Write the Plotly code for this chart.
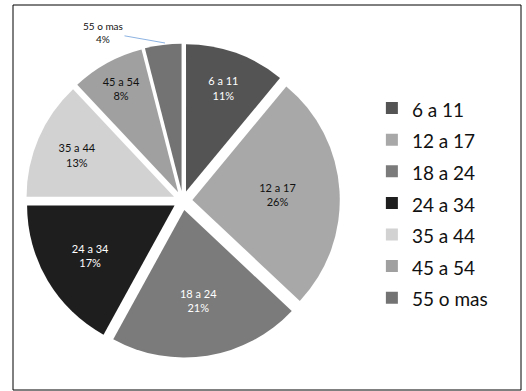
import plotly.graph_objects as go

labels = ["6 a 11", "12 a 17", "18 a 24", "24 a 34", "35 a 44", "45 a 54", "55 o mas"]
values = [11, 26, 21, 17, 13, 8, 4]
colors = ["#545454", "#a8a8a8", "#7b7b7b", "#1e1e1e", "#d2d2d2", "#a0a0a0", "#737373"]
text_colors = ["#ffffff", "#111111", "#ffffff", "#ffffff", "#111111", "#111111", "#111111"]

texts = [f"{l}<br>{v}%" for l, v in zip(labels, values)]
texts[-1] = ""  # shown outside with a leader line

# legend entries: larger legend font for row spacing, actual glyphs at 19px
legend_labels = [f'<span style="font-size:19px">{l}</span>' for l in labels]

fig = go.Figure(go.Pie(
    labels=legend_labels,
    values=values,
    text=texts,
    textinfo="text",
    textposition="inside",
    insidetextorientation="horizontal",
    sort=False,
    direction="clockwise",
    rotation=0,
    pull=[0.065] * len(values),
    marker=dict(colors=colors, line=dict(width=0)),
    textfont=dict(family="Lato, sans-serif", size=11, color=text_colors),
    domain=dict(x=[0.049, 0.646], y=[0.084, 0.89]),
    hovertemplate="%{text}<extra></extra>",
))

fig.add_annotation(
    x=165 / 526, y=1 - 43 / 391, xref="paper", yref="paper",
    ax=-62, ay=-11,
    text=f"{labels[-1]}<br>{values[-1]}%",
    showarrow=True, arrowhead=0, arrowwidth=1, arrowcolor="#8db3e2",
    font=dict(family="Lato, sans-serif", size=10, color="#111111"),
)

fig.add_shape(type="rect", xref="paper", yref="paper",
              x0=13 / 526, x1=521 / 526, y0=1 / 391, y1=1 - 5 / 391,
              line=dict(color="black", width=1))

fig.update_layout(
    width=526, height=391,
    margin=dict(l=0, r=0, t=0, b=0),
    paper_bgcolor="white",
    plot_bgcolor="white",
    showlegend=True,
    legend=dict(x=0.707, y=0.48, xanchor="left", yanchor="middle",
                font=dict(family="Lato, sans-serif", size=22, color="#111111"),
                bgcolor="rgba(0,0,0,0)"),
)

fig.write_html("out.html")
